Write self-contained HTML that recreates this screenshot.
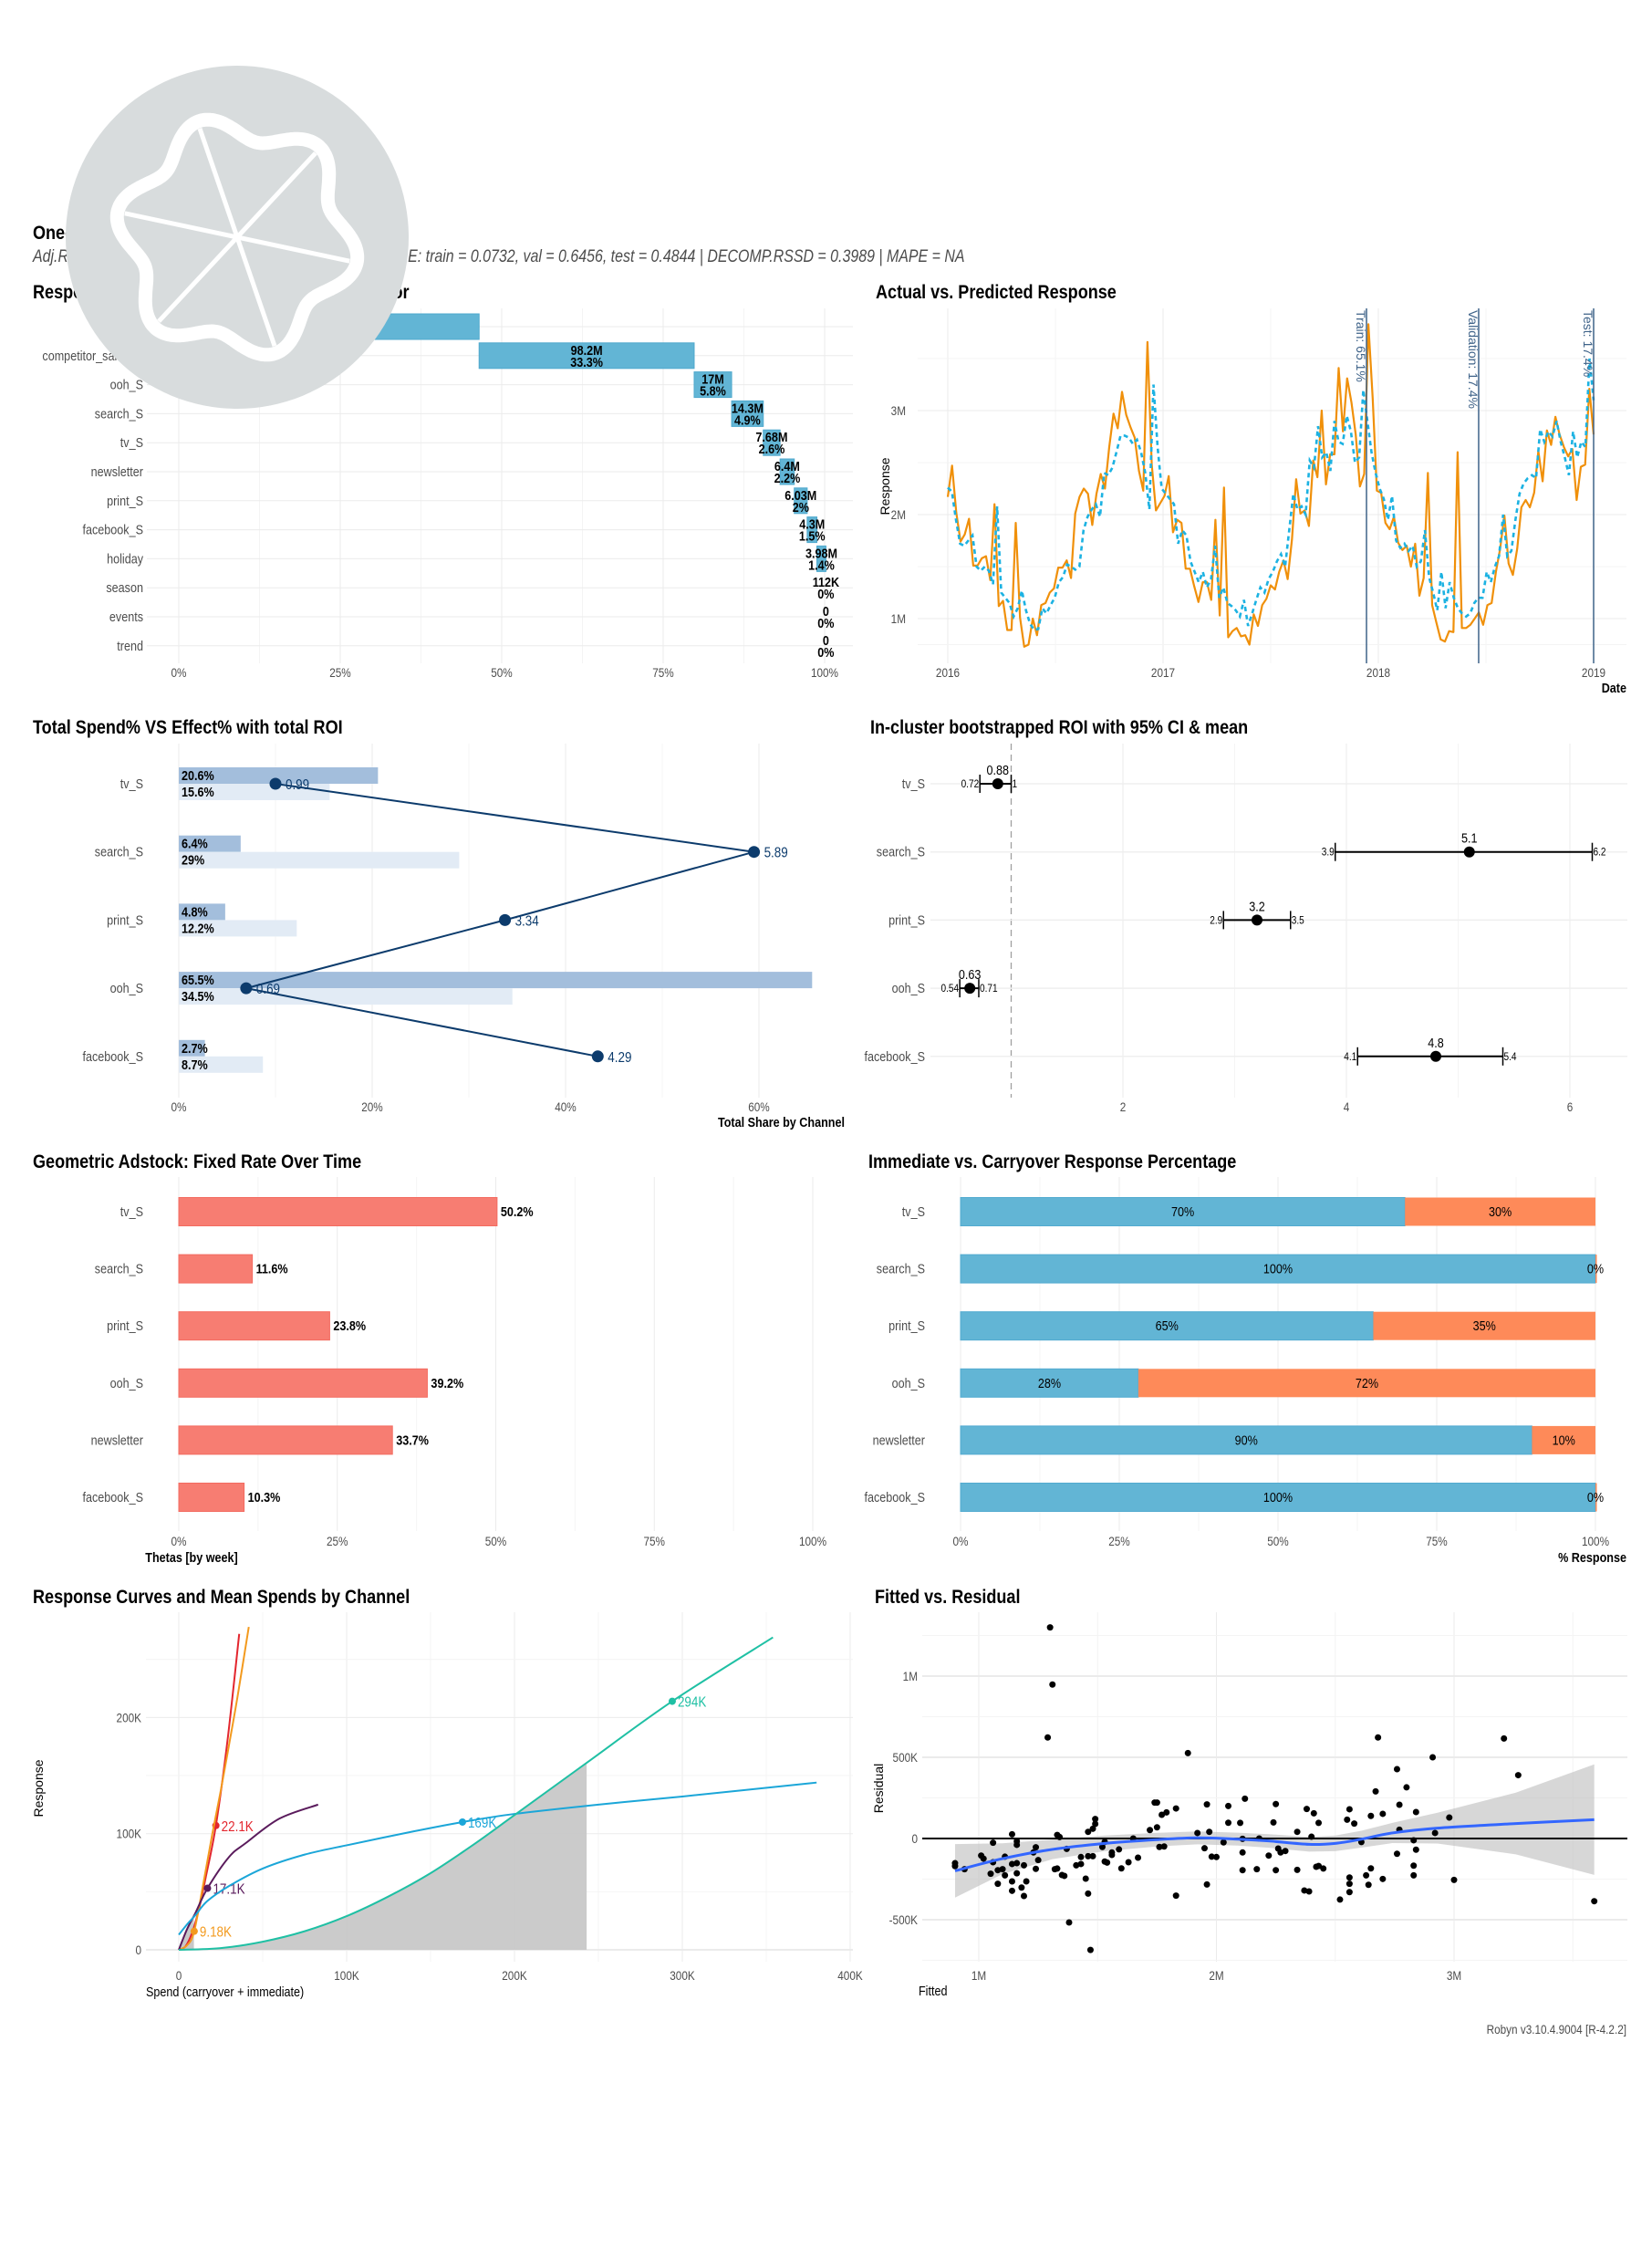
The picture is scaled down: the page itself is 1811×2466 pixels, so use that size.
<!DOCTYPE html>
<html><head><meta charset="utf-8">
<style>
html,body{margin:0;padding:0;background:#fff;}
svg{display:block;}
text{font-family:"Liberation Sans",Arial,sans-serif;}
.ttl{font-size:21.5px;font-weight:bold;fill:#000;}
.tick{font-size:14px;fill:#4d4d4d;}
.row{font-size:15px;fill:#4d4d4d;}
.axt{font-size:15px;fill:#000;}
.bl{font-size:15px;font-weight:bold;fill:#000;}
</style></head>
<body>
<svg id="page" xmlns="http://www.w3.org/2000/svg" width="1811" height="2466" viewBox="0 0 1811 2466">
<rect x="0" y="0" width="1811" height="2466" fill="#fff"/>
<text x="36" y="262" class="ttl">One-pager for Model ID: 1_231_4</text>
<text x="36" y="287" font-size="19" font-style="italic" fill="#4d4d4d">Adj.R2: train = 0.9035, val = 0.8116, test = 0.5966 | NRMSE: train = 0.0732, val = 0.6456, test = 0.4844 | DECOMP.RSSD = 0.3989 | MAPE = NA</text>

<text x="36" y="327" class="ttl">Response Decomposition Waterfall by Predictor</text>
<text x="960" y="327" class="ttl">Actual vs. Predicted Response</text>
<text x="36" y="804" class="ttl">Total Spend% VS Effect% with total ROI</text>
<text x="954" y="804" class="ttl">In-cluster bootstrapped ROI with 95% CI &amp; mean</text>
<text x="36" y="1280" class="ttl">Geometric Adstock: Fixed Rate Over Time</text>
<text x="952" y="1280" class="ttl">Immediate vs. Carryover Response Percentage</text>
<text x="36" y="1757" class="ttl">Response Curves and Mean Spends by Channel</text>
<text x="959" y="1757" class="ttl">Fitted vs. Residual</text>
<text x="1783" y="2229" text-anchor="end" font-size="14" fill="#4d4d4d">Robyn v3.10.4.9004 [R-4.2.2]</text>

<g id="g1"></g>
<g id="g2"></g>
<g id="g3"></g>
<g id="g4"></g>
<g id="g5"></g>
<g id="g6"></g>
<g id="g7"></g>
<g id="g8"></g>
<g id="logo"></g>
</svg>
<script>
const NS="http://www.w3.org/2000/svg";
function add(p,tag,a,txt){const e=document.createElementNS(NS,tag);for(const k in a)e.setAttribute(k,a[k]);if(txt!==undefined)e.textContent=txt;p.appendChild(e);return e;}

// ---------- DATA ----------
const wfLabels=["intercept","competitor_sales_B","ooh_S","search_S","tv_S","newsletter","print_S","facebook_S","holiday","season","events","trend"];
const wfPct=[46.5,33.3,5.8,4.9,2.6,2.2,2.0,1.5,1.4,0,0,0];
const wfVal=["137M","98.2M","17M","14.3M","7.68M","6.4M","6.03M","4.3M","3.98M","112K","0","0"];
const wfPctText=["46.5%","33.3%","5.8%","4.9%","2.6%","2.2%","2%","1.5%","1.4%","0%","0%","0%"];
const wfTicks=[0,25,50,75,100];

const fitActual=[2.17,2.47,2.02,1.74,1.81,1.96,1.51,1.51,1.58,1.6,1.37,2.1,1.12,1.17,0.89,0.89,1.92,1.01,0.73,0.75,1.0,0.84,1.13,1.15,1.25,1.29,1.49,1.49,1.56,1.39,2.01,2.17,2.25,2.2,1.9,2.2,2.39,2.25,2.65,2.97,2.83,3.18,2.96,2.84,2.74,2.42,2.23,3.66,2.48,2.04,2.11,2.18,2.37,1.83,1.95,1.92,1.48,1.48,1.31,1.16,1.35,1.35,1.18,1.95,1.03,2.26,0.82,0.88,0.91,0.83,0.84,0.75,1.04,0.93,1.13,1.19,1.32,1.28,1.45,1.56,1.38,1.76,2.34,2.01,2.04,1.89,2.52,2.36,3.0,2.29,2.58,2.58,3.41,2.8,3.31,3.08,2.77,2.27,2.39,3.83,3.12,2.23,2.21,1.92,1.86,1.98,1.73,1.66,1.70,1.50,1.72,1.22,1.39,2.40,1.13,0.96,0.80,0.78,0.88,0.87,2.6,0.91,0.91,0.94,1.0,1.06,0.94,1.13,1.15,1.45,1.67,1.99,1.53,1.42,1.67,2.07,2.14,2.07,2.21,2.61,2.32,2.81,2.67,2.94,2.77,2.65,2.56,2.63,2.14,2.46,2.48,3.21,2.77];
const fitPred=[2.26,2.22,1.95,1.72,1.70,1.75,1.80,1.5,1.46,1.5,1.46,1.33,2.08,1.25,1.2,1.15,1.02,1.1,1.27,1.08,0.95,0.89,0.9,1.1,1.05,1.13,1.2,1.35,1.4,1.52,1.5,1.47,1.5,1.85,1.98,2.05,2.1,1.98,2.4,2.38,2.45,2.6,2.76,2.76,2.74,2.68,2.72,2.6,2.4,2.05,3.25,2.65,2.25,2.2,2.15,2.1,1.72,1.85,1.8,1.55,1.45,1.35,1.45,1.3,1.38,1.7,1.2,1.3,1.15,1.12,1.08,1.02,1.18,0.93,1.05,1.18,1.3,1.25,1.38,1.45,1.55,1.62,1.5,1.85,2.2,2.05,2.08,2.0,2.52,2.45,2.85,2.55,2.6,2.42,2.9,2.7,2.68,2.95,2.8,2.5,2.55,3.2,2.9,2.6,2.4,2.25,2.15,1.95,2.18,1.75,1.68,1.72,1.65,1.7,1.5,1.55,1.85,1.4,1.25,1.08,1.45,1.1,1.35,1.2,1.1,1.05,1.02,1.05,1.15,1.2,1.2,1.45,1.35,1.5,1.6,2.0,1.6,1.65,1.95,2.2,2.3,2.35,2.38,2.35,2.82,2.7,2.8,2.75,2.9,2.7,2.55,2.38,2.8,2.55,2.7,2.65,3.5,3.1];
const fitStart=2016.0, fitEnd=2019.0;
const splitDates=[2017.945,2018.466,2019.0];
const splitLabels=["Train: 65.1%","Validation: 17.4%","Test: 17.4%"];
const fitYTicks=[1,2,3];
const fitXTicks=[2016,2017,2018,2019];

const chLabels=["tv_S","search_S","print_S","ooh_S","facebook_S"];
const spendShare=[20.6,6.4,4.8,65.5,2.7];
const effectShare=[15.6,29,12.2,34.5,8.7];
const roiTotal=[0.99,5.89,3.34,0.69,4.29];
const shareTicks=[0,20,40,60];

const ciMean=[0.88,5.1,3.2,0.63,4.8];
const ciLow=[0.72,3.9,2.9,0.54,4.1];
const ciHigh=[1,6.2,3.5,0.71,5.4];
const ciTicks=[2,4,6];

const adLabels=["tv_S","search_S","print_S","ooh_S","newsletter","facebook_S"];
const adTheta=[50.2,11.6,23.8,39.2,33.7,10.3];
const pctTicks=[0,25,50,75,100];
const immPct=[70,100,65,28,90,100];
const carryPct=[30,0,35,72,10,0];

const curveNames=["search_S","facebook_S","print_S","tv_S","ooh_S"];
const curveColors=["#e3262e","#f39a1e","#5a1b5c","#1ba6d8","#1fc0a4"];
const curveSpend=[[0,4,8,12,16,22.1,29,36],[0,5,9.18,15,20,25,30,35,41.7],[0,5,10,17.1,30,40,60,83],[0,5,10,17,30,50,75,100,140,169,200,250,300,380],[0,25,50,75,100,125,150,175,200,243,294,354]];
const curveResp=[[0,3,15,35,62,107,180,272],[0,4,16,60,100,137,177,218,278],[0,18,32,53,80,92,113,125],[13,22,30,42,55,70,82,90,102,110,117,125,132,144],[0,1.5,7,16,29,46,66,90,116,161,214,269]];
const meanSpend=[22.1,9.18,17.1,169,294];
const meanResp=[107,16,53,110,214];
const meanLabels=["22.1K","9.18K","17.1K","169K","294K"];
const curveXTicks=[0,100,200,300,400];
const curveXTickLabels=["0","100K","200K","300K","400K"];
const curveYTicks=[0,100,200];
const curveYTickLabels=["0","100K","200K"];

const resFitted=[1.30,1.31,1.29,1.88,2.68,3.21,2.91,3.27,2.76,2.80,2.67,2.77,2.98,2.84,2.56,2.70,2.65,2.55,2.58,1.96,2.12,2.25,2.05,2.05,2.24,2.38,2.41,2.43,2.10,1.74,1.75,1.83,1.79,1.77,1.49,1.49,1.48,1.46,1.33,1.34,1.14,1.16,1.16,1.06,1.01,1.02,1.06,1.11,1.14,1.16,1.16,1.19,1.24,1.23,1.25,1.24,1.37,1.33,1.32,1.35,1.36,1.41,1.43,1.43,1.46,1.48,1.53,1.52,1.53,1.54,1.56,1.56,1.59,1.60,1.63,1.65,1.67,1.72,1.75,1.76,1.78,1.92,1.95,1.97,1.98,2.00,2.03,2.11,2.11,2.11,2.17,2.18,2.22,2.25,2.26,2.27,2.29,2.34,2.34,2.37,2.39,2.40,2.42,2.43,2.45,2.52,2.56,2.56,2.56,2.61,2.63,2.64,2.65,2.70,2.76,2.77,2.83,2.83,2.83,2.84,2.92,3.00,3.59,1.96,1.83,1.46,1.45,1.38,1.47,1.08,1.14,1.18,1.19,1.14,1.20,0.90,0.90,0.94,1.10,1.08,1.05,1.11];
const resResid=[1300,948,622,526,622,616,500,390,427,315,290,208,129,163,180,152,139,116,92,210,245,212,97,200,99,182,155,96,96,221,221,185,161,146,120,90,60,41,22,9,26,-17,-39,-26,-105,-124,-146,-112,-157,-152,-214,-165,-54,-86,-133,-187,-64,-185,-189,-225,-230,-165,-157,-114,-109,-109,-21,-52,-142,-148,-101,-86,-67,-184,-146,0,-118,52,69,-52,-49,34,-60,41,-112,-114,-24,-2,-86,-195,-189,0,-105,-195,-62,-86,-77,41,-193,-320,-326,11,-174,-169,-185,-376,-240,-279,-330,-22,-227,-285,-184,-249,-94,54,-11,-167,-227,-69,34,-255,-386,-283,-352,-339,-247,-517,-686,-279,-322,-302,-354,-264,-264,-170,-152,-189,-189,-195,-217,-227];
const smoothX=[0.9,1.1,1.31,1.53,1.75,1.92,2.09,2.22,2.39,2.5,2.61,2.74,2.93,3.26,3.59];
const smoothY=[-199,-124,-67,-30,-7,4,-4,-15,-36,-30,-4,34,64,92,116];
const smoothSE=[165,95,60,48,42,40,40,42,45,48,52,62,95,190,340];
const resXTicks=[1,2,3];
const resXTickLabels=["1M","2M","3M"];
const resYTicks=[-500,0,500,1000];
const resYTickLabels=["-500K","0","500K","1M"];

// ---------- helpers ----------
const GRID="#ebebeb", GRIDm="#f4f4f4";
function vline(g,x,y1,y2,c,w){return add(g,'line',{x1:x,x2:x,y1:y1,y2:y2,stroke:c,'stroke-width':w||1});}
function hline(g,y,x1,x2,c,w){return add(g,'line',{x1:x1,x2:x2,y1:y,y2:y,stroke:c,'stroke-width':w||1});}

// ---------- 1 waterfall ----------
(function(){
const g=document.getElementById('g1');
const X=p=>196+p*7.08, rowY=i=>358+i*31.8;
for(let p=0;p<=100;p+=12.5){const l=vline(g,X(p),338,727,p%25===0?GRID:GRIDm);

}
let cum=0;
wfLabels.forEach((lab,i)=>{
 const y=rowY(i);
 const gl=hline(g,y,161,935,GRID);
 
 
 const t=add(g,'text',{x:157,y:y+5,'text-anchor':'end',class:'row'},lab);
 
 
 const x0=X(cum),x1=X(cum+wfPct[i]);
 if(wfPct[i]>0){const r=add(g,'rect',{x:x0,y:y-14,width:x1-x0,height:28,fill:'#62b5d5',stroke:'#4fa9cd','stroke-width':1});
 
 }
 const cx=(x0+x1)/2;
 const a=add(g,'text',{x:cx,y:y-1,'text-anchor':'middle',class:'bl'},wfVal[i]);
 
 
 const b=add(g,'text',{x:cx,y:y+12,'text-anchor':'middle',class:'bl'},wfPctText[i]);
 
 
 cum+=wfPct[i];
});
wfTicks.forEach(v=>{const t=add(g,'text',{x:X(v),y:742,'text-anchor':'middle',class:'tick'},v+'%');

});
})();

// ---------- 2 actual vs predicted ----------
(function(){
const g=document.getElementById('g2');
const X=d=>1039+(d-2016)*236, Y=v=>678-(v-1)*114;
[2016,2016.5,2017,2017.5,2018,2018.5,2019].forEach(d=>{const l=vline(g,X(d),338,727,Number.isInteger(d)?GRID:GRIDm);

});
[0.75,1,1.5,2,2.5,3,3.5].forEach(v=>{const l=hline(g,Y(v),1006,1783,Number.isInteger(v)?GRID:GRIDm);

});
fitYTicks.forEach(v=>{const t=add(g,'text',{x:993,y:Y(v)+5,'text-anchor':'end',class:'tick'},v+'M');

});
fitXTicks.forEach(v=>{const t=add(g,'text',{x:X(v),y:742,'text-anchor':'middle',class:'tick'},String(v));

});
function path(arr){const n=arr.length;return arr.map((v,i)=>(i?'L':'M')+X(fitStart+(fitEnd-fitStart)*i/(n-1)).toFixed(1)+' '+Y(v).toFixed(1)).join(' ');}
const pa=add(g,'path',{d:path(fitActual),fill:'none',stroke:'#f0900a','stroke-width':2.2,'stroke-linejoin':'round'});


const pp=add(g,'path',{d:path(fitPred),fill:'none',stroke:'#1cb2e2','stroke-width':2.6,'stroke-dasharray':'5 4'});


splitDates.forEach((d,i)=>{const l=vline(g,X(d),338,727,'#3f6389',1.5);


const t=add(g,'text',{x:0,y:0,transform:`translate(${X(d)-11},340) rotate(90)`,'font-size':14,fill:'#3f6389'},splitLabels[i]);

});
const yt=add(g,'text',{x:0,y:0,transform:'translate(975,533) rotate(-90)','text-anchor':'middle','font-size':14,fill:'#000'},'Response');


const xt=add(g,'text',{x:1783,y:759,'text-anchor':'end',class:'axt','font-weight':'bold'},'Date');


})();

// ---------- 3 share ----------
(function(){
const g=document.getElementById('g3');
const X=p=>196+p*10.6, rowY=i=>859+i*74.7, roiX=r=>X(r*10.1);
[0,10,20,30,40,50,60].forEach(p=>{const l=vline(g,X(p),815,1203,p%20===0?GRID:GRIDm);

});
chLabels.forEach((lab,i)=>{
 const y=rowY(i);
 const t=add(g,'text',{x:157,y:y+5,'text-anchor':'end',class:'row'},lab);
 
 
 const r1=add(g,'rect',{x:X(0),y:y-18,width:X(spendShare[i])-X(0),height:18,fill:'#a3bedc'});
 
 
 const r2=add(g,'rect',{x:X(0),y:y,width:X(effectShare[i])-X(0),height:18,fill:'#e2ebf5'});
 
 
 const a=add(g,'text',{x:199,y:y-4,class:'bl'},spendShare[i]+'%');
 
 
 const b=add(g,'text',{x:199,y:y+14,class:'bl'},effectShare[i]+'%');
 
 
});
const d=roiTotal.map((r,i)=>(i?'L':'M')+roiX(r)+' '+rowY(i)).join(' ');
const ln=add(g,'path',{d:d,fill:'none',stroke:'#0c3b6c','stroke-width':2});


roiTotal.forEach((r,i)=>{
 const c=add(g,'circle',{cx:roiX(r),cy:rowY(i),r:6.5,fill:'#0c3b6c'});
 
 
 const t=add(g,'text',{x:roiX(r)+11,y:rowY(i)+6,'font-size':16,fill:'#0c3b6c'},String(r));
 
 
});
shareTicks.forEach(v=>{const t=add(g,'text',{x:X(v),y:1218,'text-anchor':'middle',class:'tick'},v+'%');

});
const xt=add(g,'text',{x:926,y:1235,'text-anchor':'end',class:'axt','font-weight':'bold'},'Total Share by Channel');


})();

// ---------- 4 ROI CI ----------
(function(){
const g=document.getElementById('g4');
const X=v=>986+v*122.5, rowY=i=>859+i*74.7;
[2,3,4,5,6].forEach(v=>{const l=vline(g,X(v),815,1203,v%2===0?GRID:GRIDm);

});
const dl=add(g,'line',{x1:X(1),x2:X(1),y1:815,y2:1203,stroke:'#a0a0a0','stroke-width':1.3,'stroke-dasharray':'7 5'});


chLabels.forEach((lab,i)=>{
 const y=rowY(i);
 const gl=hline(g,y,1020,1784,'#efefef',1.5);
 
 
 const t=add(g,'text',{x:1014,y:y+5,'text-anchor':'end',class:'row'},lab);
 
 
 const e=add(g,'line',{x1:X(ciLow[i]),x2:X(ciHigh[i]),y1:y,y2:y,stroke:'#000','stroke-width':2});
 
 
 const c1=vline(g,X(ciLow[i]),y-10,y+10,'#000',1.5);
 
 
 const c2=vline(g,X(ciHigh[i]),y-10,y+10,'#000',1.5);
 
 
 const p=add(g,'circle',{cx:X(ciMean[i]),cy:y,r:6,fill:'#000'});
 
 
 const m=add(g,'text',{x:X(ciMean[i]),y:y-10,'text-anchor':'middle','font-size':15,fill:'#000'},String(ciMean[i]));
 
 
 const lo=add(g,'text',{x:X(ciLow[i])-1,y:y+4,'text-anchor':'end','font-size':12,fill:'#000'},String(ciLow[i]));
 
 
 const hi=add(g,'text',{x:X(ciHigh[i])+1,y:y+4,'font-size':12,fill:'#000'},String(ciHigh[i]));
 
 
});
ciTicks.forEach(v=>{const t=add(g,'text',{x:X(v),y:1218,'text-anchor':'middle',class:'tick'},String(v));

});
})();

// ---------- 5 adstock ----------
(function(){
const g=document.getElementById('g5');
const X=p=>196+p*6.95, rowY=i=>1328+i*62.6;
for(let p=0;p<=100;p+=12.5){const l=vline(g,X(p),1290,1678,p%25===0?GRID:GRIDm);

}
adLabels.forEach((lab,i)=>{
 const y=rowY(i);
 const t=add(g,'text',{x:157,y:y+5,'text-anchor':'end',class:'row'},lab);
 
 
 const r=add(g,'rect',{x:X(0),y:y-15.5,width:X(adTheta[i])-X(0),height:31,fill:'#f77d72',stroke:'#f36b60','stroke-width':1});
 
 
 const v=add(g,'text',{x:X(adTheta[i])+4,y:y+5,class:'bl'},adTheta[i]+'%');
 
 
});
pctTicks.forEach(v=>{const t=add(g,'text',{x:X(v),y:1694,'text-anchor':'middle',class:'tick'},v+'%');

});
const xt=add(g,'text',{x:210,y:1712,'text-anchor':'middle',class:'axt','font-weight':'bold'},'Thetas [by week]');


})();

// ---------- 6 immediate vs carryover ----------
(function(){
const g=document.getElementById('g6');
const X=p=>1053+p*6.96, rowY=i=>1328+i*62.6;
for(let p=0;p<=100;p+=12.5){const l=vline(g,X(p),1290,1678,p%25===0?GRID:GRIDm);

}
adLabels.forEach((lab,i)=>{
 const y=rowY(i);
 const t=add(g,'text',{x:1014,y:y+5,'text-anchor':'end',class:'row'},lab);
 
 
 const a=add(g,'rect',{x:X(0),y:y-15.5,width:X(immPct[i])-X(0),height:31,fill:'#62b5d5',stroke:'#52abd0','stroke-width':1});
 
 
 const b=add(g,'rect',{x:X(immPct[i]),y:y-15.5,width:Math.max(X(immPct[i]+carryPct[i])-X(immPct[i]),1.5),height:31,fill:'#fe8a59'});
 
 
 const ta=add(g,'text',{x:(X(0)+X(immPct[i]))/2,y:y+5,'text-anchor':'middle','font-size':15,fill:'#000'},immPct[i]+'%');
 
 
 const tb=add(g,'text',{x:(X(immPct[i])+X(100))/2,y:y+5,'text-anchor':'middle','font-size':15,fill:'#000'},carryPct[i]+'%');
 
 
});
pctTicks.forEach(v=>{const t=add(g,'text',{x:X(v),y:1694,'text-anchor':'middle',class:'tick'},v+'%');

});
const xt=add(g,'text',{x:1783,y:1712,'text-anchor':'end',class:'axt','font-weight':'bold'},'% Response');


})();

// ---------- 7 response curves ----------
(function(){
const g=document.getElementById('g7');
const X=k=>196+k*1.84, Y=k=>2137-k*1.273;
for(let k=0;k<=400;k+=50){const l=vline(g,X(k),1767,2150,k%100===0?GRID:GRIDm);

}
for(let k=0;k<=250;k+=50){const l=hline(g,Y(k),160,935,k%100===0?GRID:GRIDm,k===0?2:1);

}
const tealS=curveSpend[4], tealR=curveResp[4];
let d='M'+X(0)+' '+Y(0);
for(let j=0;j<tealS.length;j++){if(tealS[j]<=243)d+=' L'+X(tealS[j])+' '+Y(tealR[j]);}
d+=' L'+X(243)+' '+Y(0)+' Z';
const a=add(g,'path',{d:d,fill:'#c8c8c8',opacity:0.95});


const pS=curveSpend[2], pR=curveResp[2];
const a2=add(g,'path',{d:`M${X(0)} ${Y(0)} L${X(pS[1])} ${Y(pR[1])} L${X(9)} ${Y(pR[1]+11)} L${X(9)} ${Y(0)} Z`,fill:'#c8c8c8'});


curveNames.forEach((nm,i)=>{
 const s=curveSpend[i], r=curveResp[i];
 const P=s.map((v,j)=>[X(v),Y(r[j])]);
 let pd='M'+P[0][0]+' '+P[0][1];
 for(let j=0;j<P.length-1;j++){const p0=P[j-1]||P[j],p1=P[j],p2=P[j+1],p3=P[j+2]||P[j+1];
  pd+=` C${p1[0]+(p2[0]-p0[0])/6} ${p1[1]+(p2[1]-p0[1])/6} ${p2[0]-(p3[0]-p1[0])/6} ${p2[1]-(p3[1]-p1[1])/6} ${p2[0]} ${p2[1]}`;}
 const c=add(g,'path',{d:pd,fill:'none',stroke:curveColors[i],'stroke-width':2});
 
 
 const m=add(g,'circle',{cx:X(meanSpend[i]),cy:Y(meanResp[i]),r:4,fill:curveColors[i]});
 
 
 const t=add(g,'text',{x:X(meanSpend[i])+6,y:Y(meanResp[i])+6,'font-size':16,fill:curveColors[i]},meanLabels[i]);
 
 
});
curveXTicks.forEach((v,i)=>{const t=add(g,'text',{x:X(v),y:2170,'text-anchor':'middle',class:'tick'},curveXTickLabels[i]);

});
curveYTicks.forEach((v,i)=>{const t=add(g,'text',{x:155,y:Y(v)+5,'text-anchor':'end',class:'tick'},curveYTickLabels[i]);

});
const xt=add(g,'text',{x:160,y:2188,'font-size':15,fill:'#000'},'Spend (carryover + immediate)');


const yt=add(g,'text',{x:0,y:0,transform:'translate(47,1960) rotate(-90)','text-anchor':'middle','font-size':14,fill:'#000'},'Response');


})();

// ---------- 8 residual ----------
(function(){
const g=document.getElementById('g8');
const X=f=>1073+(f-1)*260.5, Y=r=>2015-r*0.178;
[1,1.5,2,2.5,3,3.5].forEach(f=>{const l=vline(g,X(f),1767,2150,Number.isInteger(f)?GRID:GRIDm);

});
[-750,-500,-250,250,500,750,1000,1250].forEach(r=>{const l=hline(g,Y(r),1011,1784,r%500===0?GRID:GRIDm,r%500===0?2:1);

});
const up=smoothX.map((x,i)=>[X(x),Y(smoothY[i]+smoothSE[i])]);
const lo=smoothX.map((x,i)=>[X(x),Y(smoothY[i]-smoothSE[i])]).reverse();
const band=add(g,'path',{d:'M'+up.concat(lo).map(p=>p[0].toFixed(1)+' '+p[1].toFixed(1)).join(' L')+' Z',fill:'#bdbdbd',opacity:0.6});


const z=hline(g,Y(0),1011,1784,'#000',2);


resFitted.forEach((f,i)=>{const c=add(g,'circle',{cx:X(f),cy:Y(resResid[i]),r:3.5,fill:'#000'});

});
const P=smoothX.map((x,i)=>[X(x),Y(smoothY[i])]);
let pd='M'+P[0][0]+' '+P[0][1];
for(let j=0;j<P.length-1;j++){const p0=P[j-1]||P[j],p1=P[j],p2=P[j+1],p3=P[j+2]||P[j+1];
 pd+=` C${p1[0]+(p2[0]-p0[0])/6} ${p1[1]+(p2[1]-p0[1])/6} ${p2[0]-(p3[0]-p1[0])/6} ${p2[1]-(p3[1]-p1[1])/6} ${p2[0]} ${p2[1]}`;}
const sm=add(g,'path',{d:pd,fill:'none',stroke:'#3366ff','stroke-width':3});


resXTicks.forEach((v,i)=>{const t=add(g,'text',{x:X(v),y:2170,'text-anchor':'middle',class:'tick'},resXTickLabels[i]);

});
resYTicks.forEach((v,i)=>{const t=add(g,'text',{x:1006,y:Y(v)+5,'text-anchor':'end',class:'tick'},resYTickLabels[i]);

});
const xt=add(g,'text',{x:1007,y:2187,class:'axt'},'Fitted');


const yt=add(g,'text',{x:0,y:0,transform:'translate(968,1960) rotate(-90)','text-anchor':'middle','font-size':14,fill:'#000'},'Residual');


})();

// ---------- condense horizontal text (narrow font look) ----------
document.querySelectorAll('#page text').forEach(t=>{
 if(t.getAttribute('transform'))return;
 const x=parseFloat(t.getAttribute('x'))||0;
 t.setAttribute('transform',`translate(${x},0) scale(0.84,1) translate(${-x},0)`);
});

// ---------- logo ----------
(function(){
const g=document.getElementById('logo');
const cx=260,cy=260;
const c=add(g,'circle',{cx:cx,cy:cy,r:188,fill:'#d8dcdd'});


const th0=12*Math.PI/180;
let d='';
for(let k=0;k<=360;k++){const th=k*Math.PI/180;const r=120+14*Math.cos(6*(th-th0));
 d+=(k?'L':'M')+(cx+r*Math.cos(th)).toFixed(1)+' '+(cy+r*Math.sin(th)).toFixed(1);}
const s=add(g,'path',{d:d+'Z',fill:'none',stroke:'#fff','stroke-width':15,'stroke-linejoin':'round'});


[12,71,133].forEach(a=>{const t=a*Math.PI/180;
 const l=add(g,'line',{x1:cx-126*Math.cos(t),y1:cy-126*Math.sin(t),x2:cx+126*Math.cos(t),y2:cy+126*Math.sin(t),stroke:'#fff','stroke-width':5});
 
 });
})();
</script>
</body></html>
